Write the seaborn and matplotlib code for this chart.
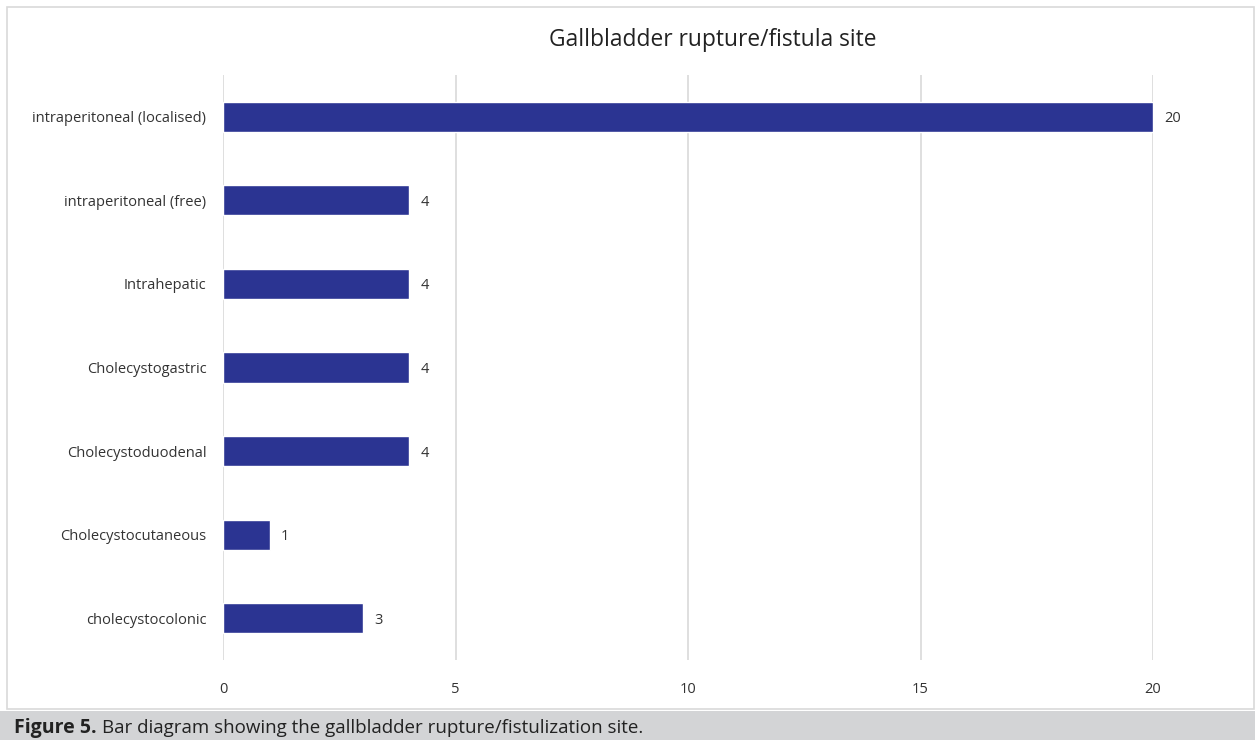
import matplotlib
matplotlib.use("Agg")
import matplotlib.pyplot as plt
import seaborn as sns
import pandas as pd
from matplotlib.patches import Rectangle

categories = ["intraperitoneal (localised)", "intraperitoneal (free)", "Intrahepatic",
              "Cholecystogastric", "Cholecystoduodenal", "Cholecystocutaneous",
              "cholecystocolonic"]
values = [20, 4, 4, 4, 4, 1, 3]
xticks = [0, 5, 10, 15, 20]

df = pd.DataFrame({"site": categories, "count": values})

sns.set_theme(style="white")
plt.rcParams["font.family"] = ["Open Sans", "DejaVu Sans"]

fig = plt.figure(figsize=(12.55, 7.4), dpi=100)
W, H = 1255, 740

# outer chart border
fig.patches.append(Rectangle((7 / W, 1 - 709 / H), (1254 - 7) / W, (709 - 7) / H,
                             transform=fig.transFigure, fill=False,
                             edgecolor="#d9d9d9", linewidth=1.2))
# caption bar
fig.patches.append(Rectangle((0, 0), 1, (740 - 711) / H, transform=fig.transFigure,
                             facecolor="#d3d4d6", edgecolor="none"))

ax = fig.add_axes([223 / W, 1 - 660 / H, (1153 - 223) / W, (660 - 75) / H])
sns.barplot(data=df, y="site", x="count", orient="h", color="#2b3492",
            width=0.36, saturation=1, ax=ax)
ax.set_xlim(0, 20)
ax.set_ylim(6.5, -0.5)
ax.set_xticks(xticks)
ax.set_xticklabels([str(t) for t in xticks], fontsize=10.5, color="#333333")
ax.tick_params(axis="y", labelsize=10.5, colors="#333333", length=0, pad=12)
ax.tick_params(axis="x", length=0, pad=16)
ax.set_xlabel("")
ax.set_ylabel("")
for s in ax.spines.values():
    s.set_visible(False)
ax.grid(axis="x", color="#d9d9d9", linewidth=1.2)
ax.set_axisbelow(True)

for i, v in enumerate(values):
    ax.text(v + 0.25, i, str(v), va="center_baseline", ha="left", fontsize=10.5,
            color="#333333", clip_on=False)

fig.text(713 / W, 1 - 40 / H, "Gallbladder rupture/fistula site", ha="center",
         va="center", fontsize=16.4, color="#222222")

t1 = fig.text(14 / W, 1 - 728 / H, "Figure 5.", ha="left", va="center", fontsize=14,
              fontweight="bold", color="#222222")
fig.canvas.draw()
bb = t1.get_window_extent()
fig.text((bb.x1 + 5) / W, 1 - 728 / H,
         "Bar diagram showing the gallbladder rupture/fistulization site.",
         ha="left", va="center", fontsize=13.5, color="#222222")

fig.savefig("out.png", dpi=100)
